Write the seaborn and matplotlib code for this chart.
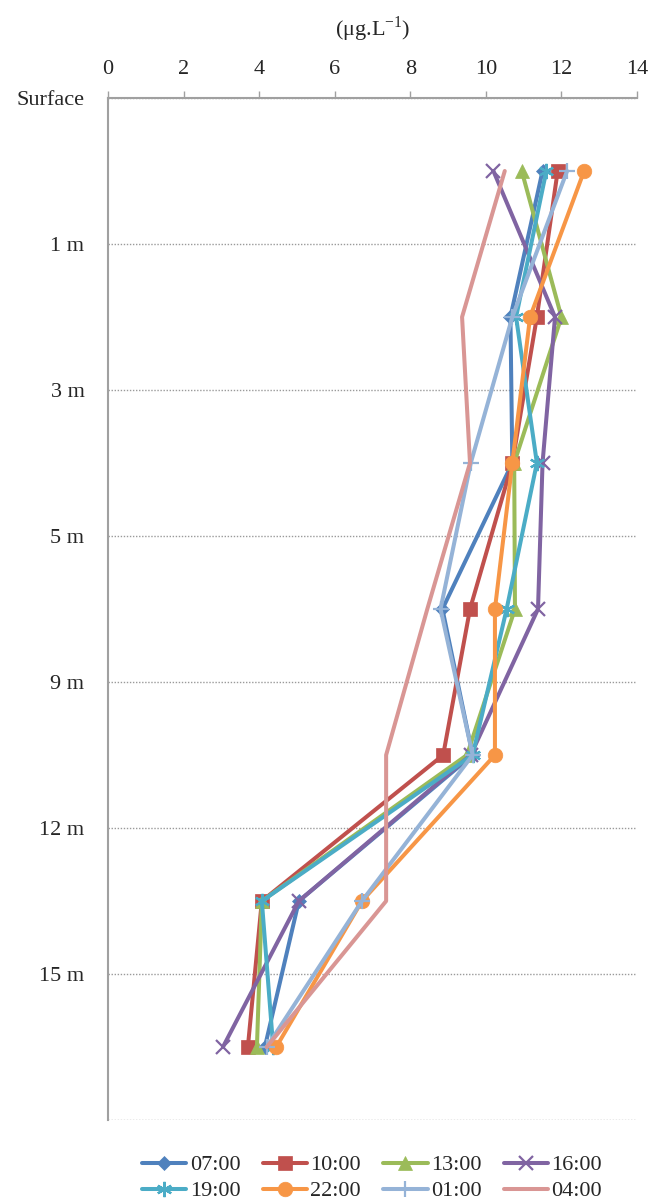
import numpy as np
import pandas as pd
import matplotlib
matplotlib.use("Agg")
import matplotlib.pyplot as plt
import seaborn as sns

# Depth levels (row labels sit on the grid lines, samples sit between them)
depth_labels = ["Surface", "1 m", "3 m", "5 m", "9 m", "12 m", "15 m", ""]

# Chlorophyll concentration (µg/L) per sampling time, one value per sampled layer
t0700 = [11.5, 10.65, 10.7, 8.85, 9.65, 5.05, 4.15]
t1000 = [11.9, 11.35, 10.7, 9.58, 8.87, 4.07, 3.7]
t1300 = [10.95, 12.0, 10.75, 10.77, 9.5, 4.07, 3.94]
t1600 = [10.2, 11.83, 11.5, 11.38, 9.6, 5.05, 3.04]
t1900 = [11.6, 10.8, 11.35, 10.55, 9.65, 4.07, 4.37]
t2200 = [12.6, 11.17, 10.7, 10.24, 10.24, 6.72, 4.45]
t0100 = [12.15, 10.7, 9.6, 8.8, 9.65, 6.72, 4.2]
t0400 = [10.5, 9.37, 9.58, 8.45, 7.36, 7.36, 4.2]

series_names = ["07:00", "10:00", "13:00", "16:00", "19:00", "22:00", "01:00", "04:00"]
series_values = [t0700, t1000, t1300, t1600, t1900, t2200, t0100, t0400]
series_colors = ["#4F81BD", "#C0504D", "#9BBB59", "#8064A2",
                 "#4BACC6", "#F79646", "#95B3D7", "#D99694"]
series_markers = ["D", "s", "^", "x", (6, 2, 0), "o", "+", None]
series_msize = [7.5, 9.5, 9.5, 10, 11, 10.5, 11, 0]

sns.set_theme(style="white")
plt.rcParams["font.family"] = ["Liberation Serif", "DejaVu Serif"]
plt.rcParams["mathtext.fontset"] = "custom"
plt.rcParams["mathtext.rm"] = "Liberation Serif"

FS = 16

fig = plt.figure(figsize=(6.55, 12.01), dpi=100)
ax = fig.add_axes([0.165, 0.0674, 0.8075, 0.851])

layer_pos = np.arange(len(t0700)) + 0.5
for name, vals, col, mk, ms in zip(series_names, series_values, series_colors,
                                   series_markers, series_msize):
    df = pd.DataFrame({"conc": vals, "depth": layer_pos})
    thin = mk in ("x", "+", (6, 2, 0))
    sns.lineplot(data=df, x="conc", y="depth", sort=False, orient="y", ax=ax,
                 color=col, linewidth=2.9, marker=mk, markersize=ms,
                 markeredgecolor=col, markeredgewidth=1.6 if thin else 0.5,
                 label=name)

ax.set_xlim(0, 14)
ax.set_ylim(len(depth_labels) - 1, 0)
ax.set_xticks(np.arange(0, 15, 2))
ax.set_yticks(np.arange(len(depth_labels)))
ax.set_yticklabels(depth_labels)
ax.xaxis.tick_top()
ax.xaxis.set_label_position("top")
ax.set_xlabel(r"(μg.L$^{\mathrm{-1}}$)", fontsize=FS, labelpad=17)
ax.set_ylabel("")

ax.tick_params(axis="x", direction="out", length=5, width=1, color="#A0A0A0",
               labelsize=FS, pad=9)
ax.tick_params(axis="y", direction="out", length=5, width=1, color="#A0A0A0",
               labelsize=FS, pad=12)
ax.grid(axis="y", linestyle=(0, (1, 1.2)), color="#9A9A9A", linewidth=1.0)
ax.grid(axis="x", visible=False)
for side in ("right", "bottom"):
    ax.spines[side].set_visible(False)
for side in ("left", "top"):
    ax.spines[side].set_color("#A0A0A0")
    ax.spines[side].set_linewidth(1.5)

# legend filled row by row: 4 entries per row
handles, labels = ax.get_legend_handles_labels()
ax.legend_.remove()
ncol = 4
order = [r * ncol + c for c in range(ncol) for r in range(len(handles) // ncol)]
fig.legend([handles[i] for i in order], [labels[i] for i in order],
           loc="lower center", bbox_to_anchor=(0.568, -0.017),
           ncol=ncol, frameon=False, fontsize=FS, handlelength=2.0,
           handletextpad=0.15, columnspacing=1.0, labelspacing=0.25)

fig.savefig("out.png", dpi=100)
